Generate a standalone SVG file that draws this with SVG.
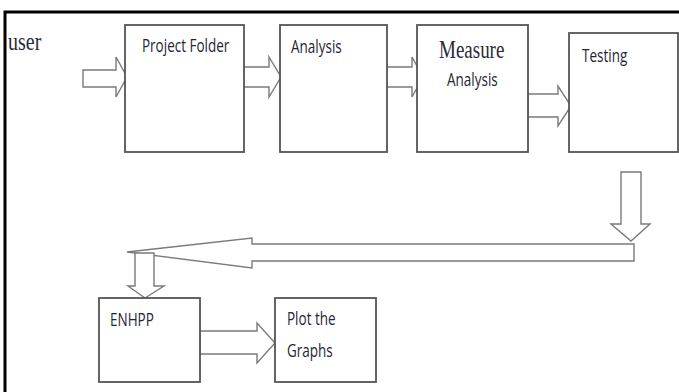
<svg xmlns="http://www.w3.org/2000/svg" width="679" height="392" viewBox="0 0 679 392">
  <style>
    .box { fill: #ffffff; stroke: #555555; stroke-width: 1.8; }
    .arrow { fill: #ffffff; stroke: #7a7a7a; stroke-width: 1.4; stroke-linejoin: miter; }
    .lbl { font-family: "Open Sans", "Liberation Sans", sans-serif; font-size: 13.5px; fill: #262633; }
    .serif { font-family: "Liberation Serif", "DejaVu Serif", serif; fill: #2a2a3a; }
  </style>
  <rect width="679" height="392" fill="#ffffff"/>
  <!-- frame -->
  <path d="M5 392 V12 H679" fill="none" stroke="#000000" stroke-width="3"/>
  <text class="serif" transform="translate(8 50) scale(1 1.3)" font-size="20">user</text>

  <!-- block arrows between steps -->
  <g id="connectors">
    <polygon class="arrow" points="83,70 116,70 116,57 127,77 116,97 116,87 83,87"/>
    <polygon class="arrow" points="237,67 269,67 269,57 281,77 269,97 269,87 237,87"/>
    <polygon class="arrow" points="380,67 412,67 412,57 423,77 412,97 412,87 380,87"/>
    <polygon class="arrow" points="528,94 558,94 558,86 571,106 558,126 558,117 528,117"/>
    <polygon class="arrow" points="621,172 641,172 641,224 650,224 631,241 611,224 621,224"/>
    <polygon class="arrow" points="634,244 634,261 252,261 252,268 127,252 252,238 252,244"/>
    <polygon class="arrow" points="135,253 154,253 154,286 164,286 145,298 128,286 135,286"/>
    <polygon class="arrow" points="200,331 257,331 257,323 275,343 257,363 257,354 200,354"/>
  </g>

  <g id="project-folder">
    <rect class="box" x="125" y="25" width="119" height="127"/>
    <text class="lbl" transform="translate(142 52) scale(1 1.3)">Project Folder</text>
  </g>
  <g id="analysis">
    <rect class="box" x="280" y="25" width="107" height="127"/>
    <text class="lbl" transform="translate(291 53) scale(1 1.3)">Analysis</text>
  </g>
  <g id="measure-analysis">
    <rect class="box" x="417" y="25" width="111" height="127"/>
    <text class="serif" transform="translate(439 58) scale(1 1.27)" font-size="19">Measure</text>
    <text class="lbl" transform="translate(447 86) scale(1 1.3)">Analysis</text>
  </g>
  <g id="testing">
    <rect class="box" x="569" y="33" width="109" height="119"/>
    <text class="lbl" transform="translate(582 62) scale(1 1.3)">Testing</text>
  </g>
  <g id="enhpp">
    <rect class="box" x="99" y="298" width="101" height="84"/>
    <text class="lbl" transform="translate(110 326) scale(1 1.3)">ENHPP</text>
  </g>
  <g id="plot-graphs">
    <rect class="box" x="275" y="298" width="101" height="84"/>
    <text class="lbl" transform="translate(287 325) scale(1 1.3)">Plot the</text>
    <text class="lbl" transform="translate(287 357) scale(1 1.3)">Graphs</text>
  </g>
</svg>
